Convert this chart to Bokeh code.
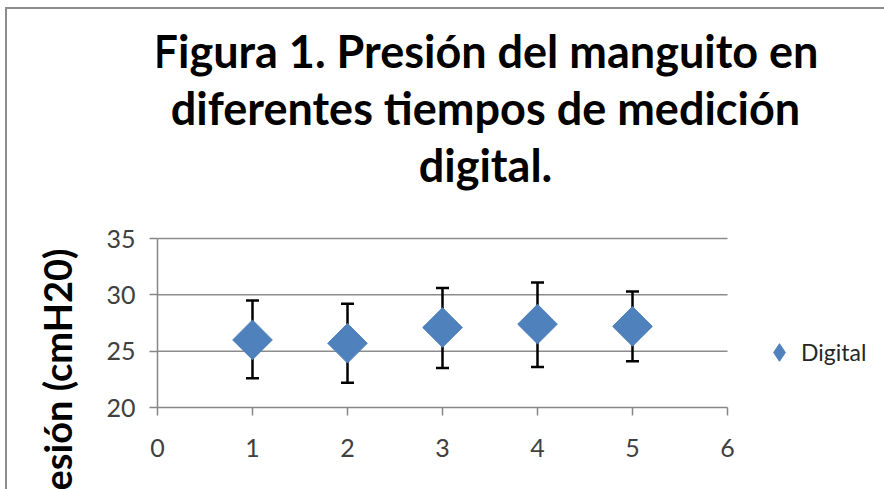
from bokeh.plotting import figure
from bokeh.models import (Range1d, FixedTicker, Label, Legend, LegendItem,
                          ColumnDataSource, Whisker, TeeHead, Title)
from bokeh.embed import file_html
from bokeh.resources import INLINE

# ---- data ----
tiempos = [1, 2, 3, 4, 5]
presion = [26.0, 25.7, 27.1, 27.4, 27.2]
error_sup = [29.5, 29.2, 30.6, 31.1, 30.3]
error_inf = [22.6, 22.2, 23.5, 23.6, 24.1]
x_ticks = [0, 1, 2, 3, 4, 5, 6]
y_ticks = [20, 25, 30, 35]
grid_y = [25, 30, 35]
titulo = ["Figura 1. Presión del manguito en",
          "diferentes tiempos de medición",
          "digital."]
eje_y = "Presión (cmH20)"
serie = "Digital"

FONT = "Lato"
GRID = "#8c8c8c"
BLUE = "#4f81bd"

# ---- layout (pixels) ----
W, H = 884, 489
FL, FR = 157, 727      # x=0 and x=6 on the page
FB, FT = 407, 238      # y=20 and y=35 on the page
x0, x1 = x_ticks[0], x_ticks[-1]
y0, y1 = y_ticks[0], y_ticks[-1]
x_end = x0 + (x1 - x0) * (W - FL) / (FR - FL)
y_end = y0 + (y1 - y0) * FB / (FB - FT)

p = figure(width=W, height=H, output_backend="svg", toolbar_location=None,
           x_range=Range1d(x0, x_end), y_range=Range1d(y0, y_end),
           min_border_left=FL, min_border_right=0,
           min_border_top=0, min_border_bottom=H - FB)
p.outline_line_color = None
p.background_fill_alpha = 0
p.border_fill_alpha = 0
p.styles = {
    "background": "linear-gradient(#8c8c8c,#8c8c8c) 5px 7px / 2px 100% no-repeat,"
                  "linear-gradient(#8c8c8c,#8c8c8c) 5px 7px / 100% 2px no-repeat,"
                  "white"
}

# axes
for ax in (p.xaxis[0], p.yaxis[0]):
    ax.axis_line_color = "#868686"
    ax.axis_line_width = 1.5
    ax.major_tick_line_color = "#868686"
    ax.major_tick_line_width = 1.5
    ax.major_tick_out = 8
    ax.major_tick_in = 0
    ax.minor_tick_line_color = None
    ax.major_label_text_font = FONT
    ax.major_label_text_font_size = "25px"
    ax.major_label_text_color = "#404040"
p.xaxis.ticker = FixedTicker(ticks=x_ticks)
p.yaxis.ticker = FixedTicker(ticks=y_ticks)
p.xaxis.bounds = (x0, x1)
p.yaxis.bounds = (y0, y1)
p.xaxis.major_label_standoff = 23
p.yaxis.major_label_standoff = 14

p.xgrid.grid_line_color = None
p.ygrid.grid_line_color = None

# horizontal grid lines, limited to the axis extent
p.segment(x0=[x0] * len(grid_y), x1=[x1] * len(grid_y), y0=grid_y, y1=grid_y,
          line_color=GRID, line_width=1.5, level="image")

src = ColumnDataSource(dict(x=tiempos, y=presion, up=error_sup, lo=error_inf))

wh = Whisker(source=src, base="x", upper="up", lower="lo",
             line_color="black", line_width=2.5, level="underlay",
             upper_head=TeeHead(size=13, line_width=2.5, line_color="black"),
             lower_head=TeeHead(size=13, line_width=2.5, line_color="black"))
p.add_layout(wh)

r = p.scatter("x", "y", source=src, marker="square", size=28, angle=0.785398,
              fill_color=BLUE, line_color=BLUE)

# legend key: diamond-shaped marker of the same series (legend only)
r_key = p.scatter("x", "y", source=src, marker="diamond", size=28,
                  fill_color=BLUE, line_color=BLUE, visible=False)

legend = Legend(items=[LegendItem(label=serie, renderers=[r_key])],
                location=(600, 33), glyph_width=44, glyph_height=44,
                label_standoff=0, padding=0, margin=0, spacing=0,
                border_line_color=None, background_fill_alpha=0,
                label_text_font=FONT, label_text_font_size="23px",
                label_text_color="#262626")
p.add_layout(legend)

# title lines (screen coords relative to frame bottom-left)
for txt, base in zip(titulo, [67, 124, 181]):
    p.add_layout(Label(x=485 - FL, y=FB - (base - 17),
                       x_units="screen", y_units="screen", text=txt,
                       text_font=FONT, text_font_style="bold",
                       text_font_size="45px", text_color="black",
                       text_align="center", text_baseline="middle"))

# y axis title (placed in the left panel, cut by the picture's bottom edge)
p.add_layout(Title(text=eje_y, align="right", offset=248,
                   vertical_align="bottom", standoff=48,
                   text_font=FONT, text_font_style="bold",
                   text_font_size="38px", text_color="black"), "left")

open("out.html", "w").write(file_html(p, INLINE))
